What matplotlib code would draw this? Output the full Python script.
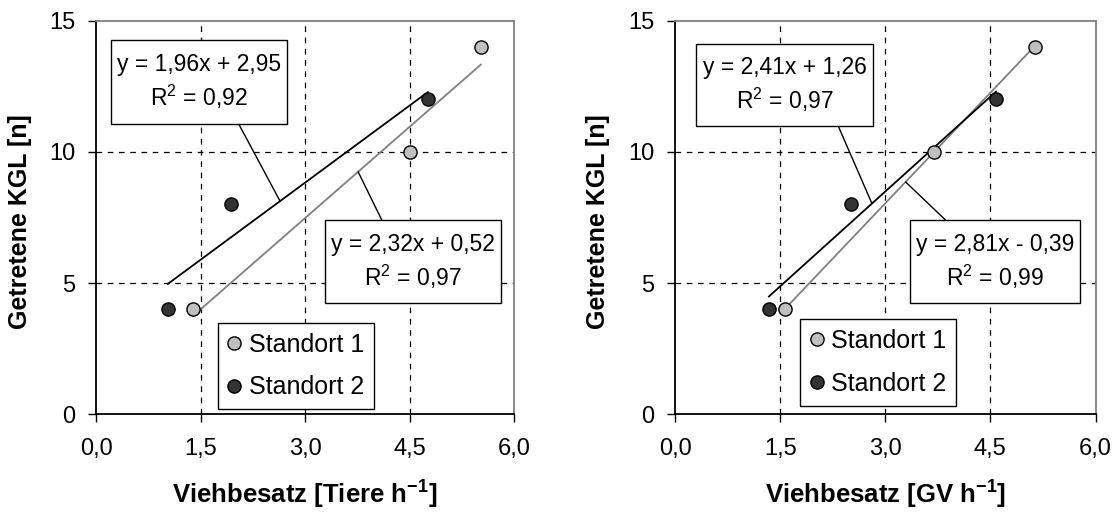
import numpy as np
import matplotlib
matplotlib.use("Agg")
import matplotlib.pyplot as plt
from matplotlib.patches import Rectangle

plt.rcParams['font.family'] = ['Liberation Sans', 'DejaVu Sans']
plt.rcParams['mathtext.fontset'] = 'custom'
plt.rcParams['mathtext.rm'] = 'Liberation Sans'
plt.rcParams['mathtext.bf'] = 'Liberation Sans:bold'
plt.rcParams['mathtext.it'] = 'Liberation Sans:italic'

# data
tiere_s1_x = [1.39, 4.50, 5.52]
tiere_s1_y = [4, 10, 14]
tiere_s2_x = [1.03, 1.94, 4.76]
tiere_s2_y = [4, 8, 12]
tiere_fit_s1 = (2.32, 0.52, 0.97)   # slope, intercept, R2
tiere_fit_s2 = (1.96, 2.95, 0.92)

gv_s1_x = [1.57, 3.69, 5.14]
gv_s1_y = [4, 10, 14]
gv_s2_x = [1.34, 2.51, 4.58]
gv_s2_y = [4, 8, 12]
gv_fit_s1 = (2.81, -0.39, 0.99)
gv_fit_s2 = (2.41, 1.26, 0.97)

x_ticks = [0.0, 1.5, 3.0, 4.5, 6.0]
x_tick_labels = ['0,0', '1,5', '3,0', '4,5', '6,0']
y_ticks = [0, 5, 10, 15]
y_tick_labels = ['0', '5', '10', '15']
series_names = ['Standort 1', 'Standort 2']

C_LIGHT = '#c0c0c0'
C_DARK = '#333333'
C_LINE1 = '#808080'
C_LINE2 = '#000000'


def de(v):
    return f"{v:.2f}".replace('.', ',')


def eq_text(fit):
    m, b, r2 = fit
    sign = '+' if b >= 0 else '-'
    return f"y = {de(m)}x {sign} {de(abs(b))}\n" + r"R$^\mathrm{2}$" + f" = {de(r2)}"


def add_box(ax, fit, box, start, x_end):
    # box = (x0, y0, x1, y1) in axes fraction, start = leader start in axes fraction
    x0, y0, x1, y1 = box
    ax.add_patch(Rectangle((x0, y0), x1 - x0, y1 - y0, transform=ax.transAxes,
                           facecolor='white', edgecolor='black', lw=1.0, zorder=5))
    ax.text((x0 + x1) / 2, (y0 + y1) / 2, eq_text(fit), transform=ax.transAxes,
            ha='center', va='center', fontsize=16.5, linespacing=1.3, zorder=6)
    m, b, _ = fit
    ax.annotate('', xy=(x_end, m * x_end + b), xycoords='data',
                xytext=start, textcoords='axes fraction',
                arrowprops=dict(arrowstyle='-', color='black', lw=1.0,
                                shrinkA=0, shrinkB=0), zorder=4)


def draw_panel(ax, s1x, s1y, s2x, s2y, fit1, fit2, xlabel, boxes, legend_anchor):
    # grid lines at interior ticks
    for xv in x_ticks[1:-1]:
        ax.axvline(xv, color='black', lw=0.9, ls=(0, (4.5, 4.5)), zorder=1)
    for yv in y_ticks[1:-1]:
        ax.axhline(yv, color='black', lw=0.9, ls=(0, (4.5, 4.5)), zorder=1)

    # trend lines
    for xs, fit, col in [(s1x, fit1, C_LINE1), (s2x, fit2, C_LINE2)]:
        xx = np.array([min(xs), max(xs)])
        ax.plot(xx, fit[0] * xx + fit[1], color=col, lw=1.3, zorder=3)

    ax.plot(s1x, s1y, 'o', ms=9.5, mfc=C_LIGHT, mec='black', mew=1.0,
            ls='none', label=series_names[0], zorder=7)
    ax.plot(s2x, s2y, 'o', ms=9.5, mfc=C_DARK, mec='black', mew=1.0,
            ls='none', label=series_names[1], zorder=7)

    ax.set_xlim(0, 6)
    ax.set_ylim(0, 15)
    ax.set_xticks(x_ticks)
    ax.set_xticklabels(x_tick_labels)
    ax.set_yticks(y_ticks)
    ax.set_yticklabels(y_tick_labels)
    ax.tick_params(axis='both', direction='out', length=6, width=1.0,
                   labelsize=17, colors='black')
    ax.tick_params(axis='x', pad=11)
    ax.tick_params(axis='y', pad=9)

    ax.spines['left'].set_color('black')
    ax.spines['bottom'].set_color('black')
    ax.spines['top'].set_color(C_LINE1)
    ax.spines['right'].set_color(C_LINE1)
    for s in ax.spines.values():
        s.set_linewidth(1.3)

    ax.set_ylabel('Getretene KGL [n]', fontsize=18, fontweight='bold')
    ax.set_xlabel(xlabel, fontsize=18.5, fontweight='bold')
    ax.xaxis.label.set_va('bottom')

    (b1, st1), (b2, st2) = boxes
    add_box(ax, fit2, b1, st1[:2], st1[2])
    add_box(ax, fit1, b2, st2[:2], st2[2])

    leg = ax.legend(loc='upper left', bbox_to_anchor=legend_anchor, borderaxespad=0,
                    frameon=True, fancybox=False, edgecolor='black', framealpha=1,
                    handlelength=0.54, handletextpad=0.3, labelspacing=0.75,
                    borderpad=0.4, fontsize=18)
    leg.get_frame().set_linewidth(1.0)
    leg.set_zorder(8)


fig = plt.figure(figsize=(11.16, 5.12), dpi=100)
W, H = 1116, 512
ax1 = fig.add_axes([96 / W, (H - 414.3) / H, 418.3 / W, 393.6 / H])
ax2 = fig.add_axes([675 / W, (H - 414.3) / H, 420.5 / W, 393.6 / H])

draw_panel(ax1, tiere_s1_x, tiere_s1_y, tiere_s2_x, tiere_s2_y,
           tiere_fit_s1, tiere_fit_s2,
           r'Viehbesatz [Tiere h$^\mathbf{-1}$]',
           [((0.037, 0.738, 0.457, 0.950), (0.341, 0.738, 2.64)),
            ((0.547, 0.282, 0.969, 0.494), (0.683, 0.494, 3.76))],
           (0.291, 0.233))

draw_panel(ax2, gv_s1_x, gv_s1_y, gv_s2_x, gv_s2_y,
           gv_fit_s1, gv_fit_s2,
           r'Viehbesatz [GV h$^\mathbf{-1}$]',
           [((0.051, 0.733, 0.470, 0.942), (0.388, 0.733, 2.81)),
            ((0.558, 0.282, 0.964, 0.494), (0.643, 0.494, 3.29))],
           (0.297, 0.242))

ax1.yaxis.set_label_coords(-0.153, 0.49)
ax2.yaxis.set_label_coords(-0.155, 0.49)
ax1.xaxis.set_label_coords(0.5, -0.245)
ax2.xaxis.set_label_coords(0.5, -0.245)

fig.savefig('out.png', dpi=100)
